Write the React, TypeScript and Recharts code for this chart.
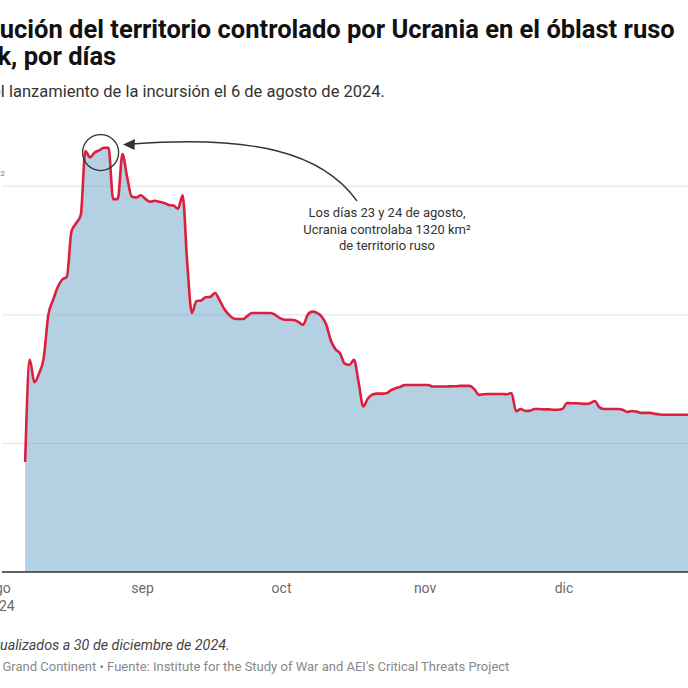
import React from 'react';
import { AreaChart, Area, XAxis, YAxis, CartesianGrid, ReferenceDot } from 'recharts';

// ---- data ----
const startDate = '2024-08-06';
const km2 = [
  342, 660, 590, 618, 665, 800, 845, 885, 910, 918,
  1060, 1085, 1110, 1310, 1290, 1305, 1312, 1320, 1320, 1160,
  1160, 1300, 1230, 1168, 1165, 1172, 1160, 1152, 1155, 1152,
  1148, 1142, 1140, 1130, 1172, 960, 806, 843, 845, 855,
  856, 868, 845, 818, 800, 789, 787, 787, 797, 806,
  806, 806, 806, 806, 800, 790, 785, 785, 784, 778,
  769, 800, 810, 806, 795, 770, 720, 693, 680, 648,
  644, 660, 590, 515, 540, 552, 555, 555, 556, 566,
  572, 576, 582, 582, 582, 582, 582, 582, 577, 577,
  577, 577, 578, 578, 579, 579, 579, 568, 551, 553,
  554, 554, 554, 554, 553, 557, 500, 507, 501, 502,
  507, 507, 506, 506, 505, 505, 507, 526, 525, 525,
  524, 523, 525, 532, 512, 507, 507, 507, 507, 505,
  498, 501, 499, 495, 495, 495, 492, 490, 489, 489,
  489, 489, 489, 489, 489, 489, 489,
];
const monthTicks = ['2024-08-01', '2024-09-01', '2024-10-01', '2024-11-01', '2024-12-01'];
const monthLabels = ['ago', 'sep', 'oct', 'nov', 'dic'];
const yearLabel = '2024';
const xDomain = ['2024-08-01', '2024-12-31'];
const yMax = 1400;
const yTicks = [0, 400, 800, 1200];
const yTickLabels = ['0', '400', '800', '1200 km'];
const yUnitSup = '²';
const peakDate = '2024-08-22T07:00:00Z';
const peakValue = 1305;

const DAY = 86400000;
const t0 = Date.parse(startDate);
const data = km2.map((v, i) => ({ t: t0 + i * DAY, v }));
const tickValues = monthTicks.map((d) => Date.parse(d));
const domain = xDomain.map((d) => Date.parse(d));

// chart placed so that chart-x 60 = page-x 0
const CHART_LEFT = -60;

const XTick = (props: any) => {
  const { x, y, payload } = props;
  const i = tickValues.indexOf(payload.value);
  return (
    <g>
      <text x={x - 3} y={y + 20.5} textAnchor="middle" fill="#6b6b6b" fontSize={14} fontFamily="Roboto">
        {monthLabels[i]}
      </text>
      {i === 0 && (
        <text x={x - 3} y={y + 39} textAnchor="middle" fill="#6b6b6b" fontSize={14} fontFamily="Roboto">
          {yearLabel}
        </text>
      )}
    </g>
  );
};

const YTick = (props: any) => {
  const { y, payload } = props;
  const i = yTicks.indexOf(payload.value);
  if (i <= 0) return null;
  const px = -CHART_LEFT + 0.3;
  const last = i === yTicks.length - 1;
  return (
    <g>
      {last ? (
        <>
          <text x={px} y={y - 6.5} textAnchor="end" fill="#999" fontSize={13} fontFamily="Roboto">
            {yTickLabels[i]}
          </text>
          <text x={px} y={y - 6.5} textAnchor="start" fill="#999" fontSize={13} fontFamily="Roboto">
            {yUnitSup}
          </text>
        </>
      ) : (
        <text x={px - 56} y={y - 6.5} textAnchor="start" fill="#999" fontSize={13} fontFamily="Roboto">
          {yTickLabels[i]}
        </text>
      )}
    </g>
  );
};

const Cropped = ({ hidden, visible, left, top, style }: any) => (
  <div style={{ position: 'absolute', left, top, whiteSpace: 'nowrap', ...style }}>
    <span style={{ position: 'absolute', right: '100%', top: 0, whiteSpace: 'pre' }}>{hidden}</span>
    {visible}
  </div>
);

export default function App() {
  return (
    <div
      style={{
        position: 'fixed',
        left: 0,
        top: 0,
        width: 688,
        height: 688,
        overflow: 'hidden',
        background: '#fff',
        fontFamily: 'Roboto, sans-serif',
        color: '#222',
      }}
    >
      <Cropped
        hidden="Evol"
        visible="ución del territorio controlado por Ucrania en el óblast ruso"
        left={-0.3}
        top={16}
        style={{ fontSize: 25.5, fontWeight: 700, lineHeight: '27px', color: '#111' }}
      />
      <Cropped
        hidden="de Kurs"
        visible="k, por días"
        left={-2.5}
        top={43.3}
        style={{ fontSize: 25.5, fontWeight: 700, lineHeight: '27px', color: '#111' }}
      />
      <Cropped
        hidden="Desde e"
        visible="l lanzamiento de la incursión el 6 de agosto de 2024."
        left={0.8}
        top={82.4}
        style={{ fontSize: 16.5, lineHeight: '20px', color: '#333' }}
      />

      <div style={{ position: 'absolute', left: CHART_LEFT, top: 0 }}>
        <AreaChart
          width={786}
          height={622}
          data={data}
          margin={{ top: 122, right: 20, bottom: 5, left: 61 }}
        >
          <CartesianGrid
            vertical={false}
            stroke="#e3e3e3"
            strokeWidth={1}
            horizontalCoordinatesGenerator={({ offset }: any) =>
              yTicks.map((v) => offset.top + offset.height * (1 - v / yMax))
            }
          />
          <XAxis
            dataKey="t"
            type="number"
            scale="linear"
            domain={domain}
            allowDataOverflow
            ticks={tickValues}
            interval={0}
            tick={<XTick />}
            tickLine={false}
            tickSize={0}
            tickMargin={0}
            axisLine={{ stroke: '#333', strokeWidth: 1.3 }}
            height={45}
          />
          <YAxis
            type="number"
            domain={[0, yMax]}
            ticks={yTicks}
            interval={0}
            allowDataOverflow
            width={1}
            axisLine={false}
            tickLine={false}
            tick={<YTick />}
          />
          <Area
            type="monotone"
            dataKey="v"
            stroke="#dc1f3e"
            strokeWidth={2.6}
            fill="#67a3c7"
            fillOpacity={0.5}
            baseValue={0}
            isAnimationActive={false}
            dot={false}
            activeDot={false}
          />
          <ReferenceDot
            x={Date.parse(peakDate)}
            y={peakValue}
            r={18}
            fill="none"
            stroke="#333"
            strokeWidth={1.3}
          />
        </AreaChart>
      </div>

      <svg
        width={688}
        height={688}
        style={{ position: 'absolute', left: 0, top: 0, pointerEvents: 'none' }}
      >
        <path d="M 357 201 C 322 152, 252 135, 132 144" fill="none" stroke="#333" strokeWidth={1.3} />
        <polygon points="123,144.5 135,139 134.5,150" fill="#333" />
      </svg>

      <div
        style={{
          position: 'absolute',
          left: 287,
          top: 205,
          width: 200,
          textAlign: 'center',
          fontSize: 13,
          lineHeight: '16.5px',
          color: '#333',
        }}
      >
        Los días 23 y 24 de agosto,
        <br />
        Ucrania controlaba 1320 km²
        <br />
        de territorio ruso
      </div>

      <Cropped
        hidden="Datos act"
        visible="ualizados a 30 de diciembre de 2024."
        left={0}
        top={636.6}
        style={{ fontSize: 14.3, lineHeight: '17px', fontStyle: 'italic', color: '#444' }}
      />
      <Cropped
        hidden="Gráfico: Le "
        visible="Grand Continent • Fuente: Institute for the Study of War and AEI's Critical Threats Project"
        left={2.5}
        top={659}
        style={{ fontSize: 13, lineHeight: '15px', color: '#888' }}
      />
    </div>
  );
}
